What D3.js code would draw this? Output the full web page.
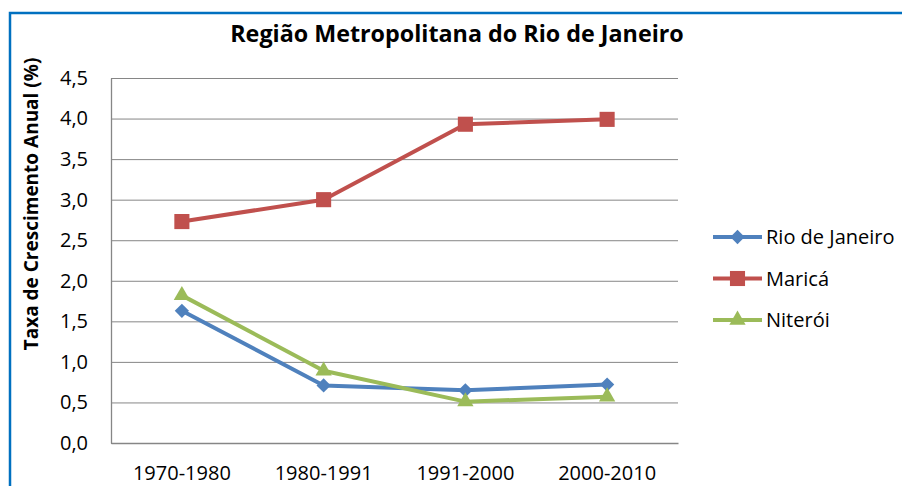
<!DOCTYPE html>
<html lang="pt">
<head>
  <meta charset="UTF-8">
  <title>Região Metropolitana do Rio de Janeiro</title>
  <style>
    body { margin: 0; background: #fff; overflow: hidden; }
    svg { display: block; }
    svg text { font-family: "Open Sans", Lato, sans-serif; fill: #000; }
    .grid line { stroke: #868686; stroke-width: 1; }
    .grid path { display: none; }
  </style>
</head>
<body>
  <div id="chart"></div>
  <script src="https://d3js.org/d3.v7.min.js"></script>
  <script>
    // Data
    const periods = ["1970-1980", "1980-1991", "1991-2000", "2000-2010"];
    const rioDeJaneiro = [1.63, 0.71, 0.65, 0.72];
    const marica = [2.73, 3.0, 3.93, 3.99];
    const niteroi = [1.82, 0.89, 0.51, 0.57];
    const yTicks = [0, 0.5, 1, 1.5, 2, 2.5, 3, 3.5, 4, 4.5];
    const seriesNames = ["Rio de Janeiro", "Maricá", "Niterói"];

    const series = [
      { name: seriesNames[0], values: rioDeJaneiro, color: "#4F81BD", symbol: d3.symbolDiamond2, size: 130 },
      { name: seriesNames[1], values: marica, color: "#C0504D", symbol: d3.symbolSquare2, size: 290 },
      { name: seriesNames[2], values: niteroi, color: "#9BBB59", symbol: d3.symbolTriangle2, size: 190 }
    ];

    const width = 902, height = 486;
    const plot = { left: 111, right: 678, top: 78, bottom: 443 };

    const svg = d3.select("#chart").append("svg")
      .attr("width", width)
      .attr("height", height);

    // blue chart frame (only top and left edges are in view)
    svg.append("path")
      .attr("d", `M10,${height}V13H${width}`)
      .attr("fill", "none")
      .attr("stroke", "#0070C0")
      .attr("stroke-width", 2.5);

    const x = d3.scaleBand().domain(periods).range([plot.left, plot.right]);
    const y = d3.scaleLinear().domain([0, 4.5]).range([plot.bottom, plot.top]);
    const fmt = d => d3.format(".1f")(d).replace(".", ",");

    // gridlines
    svg.append("g")
      .attr("class", "grid")
      .attr("transform", `translate(${plot.left},0)`)
      .call(d3.axisLeft(y).tickValues(yTicks).tickSize(-(plot.right - plot.left)).tickFormat(""));

    // y tick labels
    svg.append("g")
      .attr("transform", `translate(${plot.left},0)`)
      .call(d3.axisLeft(y).tickValues(yTicks).tickSize(0).tickPadding(23).tickFormat(fmt))
      .call(g => g.select(".domain").attr("stroke", "#868686").attr("stroke-width", 1.3))
      .call(g => g.selectAll("text").attr("font-size", 20).attr("fill", "#000").attr("font-family", "Open Sans"));

    // x axis
    svg.append("g")
      .attr("transform", `translate(0,${plot.bottom})`)
      .call(d3.axisBottom(x).tickSize(0).tickPadding(23))
      .call(g => g.select(".domain").attr("stroke", "#868686").attr("stroke-width", 1.5))
      .call(g => g.selectAll("text").attr("font-size", 20).attr("fill", "#000").attr("font-family", "Open Sans"));

    // lines and markers
    const line = d3.line()
      .x((d, i) => x(periods[i]) + x.bandwidth() / 2)
      .y(d => y(d));

    series.forEach(s => {
      svg.append("path")
        .datum(s.values)
        .attr("fill", "none")
        .attr("stroke", s.color)
        .attr("stroke-width", 4)
        .attr("stroke-linejoin", "round")
        .attr("d", line);
      svg.selectAll(null)
        .data(s.values)
        .enter()
        .append("path")
        .attr("transform", (d, i) => `translate(${x(periods[i]) + x.bandwidth() / 2},${y(d)})`)
        .attr("d", d3.symbol().type(s.symbol).size(s.size))
        .attr("fill", s.color);
    });

    // legend
    const legend = svg.append("g").attr("transform", "translate(713,237)");
    series.forEach((s, i) => {
      const row = legend.append("g").attr("transform", `translate(0,${i * 41.5})`);
      row.append("line")
        .attr("x1", 0).attr("x2", 49)
        .attr("stroke", s.color).attr("stroke-width", 4);
      row.append("path")
        .attr("transform", "translate(24.5,0)")
        .attr("d", d3.symbol().type(s.symbol).size(s.size))
        .attr("fill", s.color);
      row.append("text")
        .attr("x", 53).attr("y", 7)
        .attr("font-size", 20)
        .text(s.name);
    });

    // title
    svg.append("text")
      .attr("x", 457).attr("y", 42)
      .attr("text-anchor", "middle")
      .attr("font-size", 23.3)
      .attr("font-weight", "bold")
      .text("Região Metropolitana do Rio de Janeiro");

    // y axis title
    svg.append("text")
      .attr("transform", "translate(38,204) rotate(-90)")
      .attr("text-anchor", "middle")
      .attr("font-size", 19)
      .attr("font-weight", "bold")
      .text("Taxa de Crescimento Anual (%)");
  </script>
</body>
</html>
